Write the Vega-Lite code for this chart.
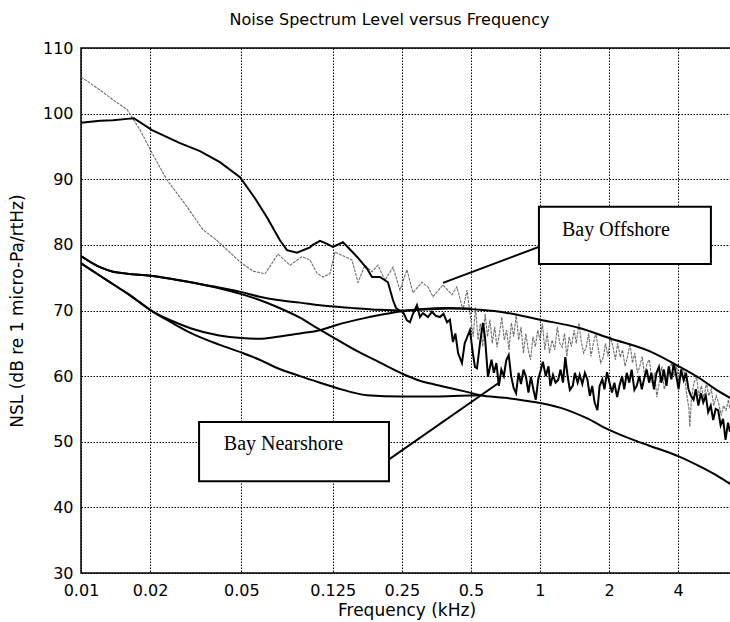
{
  "$schema": "https://vega.github.io/schema/vega-lite/v6.json",
  "width": 651,
  "height": 525,
  "autosize": {"type": "none"},
  "padding": {"left": 81, "top": 48, "right": 0, "bottom": 49},
  "background": "white",
  "title": {"text": "Noise Spectrum Level versus Frequency", "font": "DejaVu Sans", "fontSize": 16, "fontWeight": "normal", "color": "black", "offset": 12, "dx": -17},
  "config": {
    "view": {"stroke": "black", "strokeWidth": 1.5},
    "axis": {"labelFont": "DejaVu Sans", "labelFontSize": 16, "labelColor": "black", "titleFont": "DejaVu Sans", "titleFontSize": 17, "titleFontWeight": "normal", "titleColor": "black", "grid": true, "gridColor": "black", "gridDash": [1.5, 1.5], "gridOpacity": 1, "gridWidth": 1, "domain": false, "ticks": false}
  },
  "datasets": {
    "smooth": [
      {"s": "C1", "f": 0.01, "v": 78.3}, {"s": "C1", "f": 0.0121, "v": 76.6}, {"s": "C1", "f": 0.0138, "v": 75.9}, {"s": "C1", "f": 0.0159, "v": 75.6}, {"s": "C1", "f": 0.02, "v": 75.3}, {"s": "C1", "f": 0.025, "v": 74.8}, {"s": "C1", "f": 0.03, "v": 74.3}, {"s": "C1", "f": 0.04, "v": 73.5}, {"s": "C1", "f": 0.05, "v": 72.8}, {"s": "C1", "f": 0.06, "v": 72.1}, {"s": "C1", "f": 0.072, "v": 71.6}, {"s": "C1", "f": 0.09, "v": 71.2}, {"s": "C1", "f": 0.11, "v": 70.8}, {"s": "C1", "f": 0.15, "v": 70.4}, {"s": "C1", "f": 0.2, "v": 70.1}, {"s": "C1", "f": 0.25, "v": 70.0}, {"s": "C1", "f": 0.3, "v": 70.1}, {"s": "C1", "f": 0.4, "v": 70.3}, {"s": "C1", "f": 0.5, "v": 70.3},
      {"s": "C2", "f": 0.01, "v": 78.3}, {"s": "C2", "f": 0.0121, "v": 76.6}, {"s": "C2", "f": 0.0138, "v": 75.9}, {"s": "C2", "f": 0.0159, "v": 75.6}, {"s": "C2", "f": 0.02, "v": 75.3}, {"s": "C2", "f": 0.025, "v": 74.8}, {"s": "C2", "f": 0.03, "v": 74.3}, {"s": "C2", "f": 0.04, "v": 73.4}, {"s": "C2", "f": 0.05, "v": 72.5}, {"s": "C2", "f": 0.06, "v": 71.6}, {"s": "C2", "f": 0.072, "v": 70.5}, {"s": "C2", "f": 0.09, "v": 68.9}, {"s": "C2", "f": 0.107, "v": 67.3}, {"s": "C2", "f": 0.13, "v": 65.6}, {"s": "C2", "f": 0.16, "v": 63.8}, {"s": "C2", "f": 0.2, "v": 62.1}, {"s": "C2", "f": 0.25, "v": 60.4}, {"s": "C2", "f": 0.3, "v": 59.3}, {"s": "C2", "f": 0.35, "v": 58.7}, {"s": "C2", "f": 0.405, "v": 58.2}, {"s": "C2", "f": 0.48, "v": 57.6}, {"s": "C2", "f": 0.55, "v": 57.1}, {"s": "C2", "f": 0.7, "v": 56.7}, {"s": "C2", "f": 0.85, "v": 56.3}, {"s": "C2", "f": 1.0, "v": 55.9}, {"s": "C2", "f": 1.3, "v": 54.9}, {"s": "C2", "f": 1.6, "v": 53.6}, {"s": "C2", "f": 2.0, "v": 51.8}, {"s": "C2", "f": 2.5, "v": 50.4}, {"s": "C2", "f": 3.0, "v": 49.4}, {"s": "C2", "f": 4.07, "v": 47.7}, {"s": "C2", "f": 5.0, "v": 46.2}, {"s": "C2", "f": 6.0, "v": 44.7}, {"s": "C2", "f": 6.87, "v": 43.4},
      {"s": "C3", "f": 0.01, "v": 77.2}, {"s": "C3", "f": 0.0121, "v": 75.3}, {"s": "C3", "f": 0.0138, "v": 74.0}, {"s": "C3", "f": 0.0159, "v": 72.6}, {"s": "C3", "f": 0.0181, "v": 71.2}, {"s": "C3", "f": 0.02, "v": 70.1}, {"s": "C3", "f": 0.025, "v": 68.4}, {"s": "C3", "f": 0.03, "v": 67.3}, {"s": "C3", "f": 0.04, "v": 66.2}, {"s": "C3", "f": 0.05, "v": 65.8}, {"s": "C3", "f": 0.06, "v": 65.7}, {"s": "C3", "f": 0.072, "v": 66.0}, {"s": "C3", "f": 0.09, "v": 66.5}, {"s": "C3", "f": 0.11, "v": 67.0}, {"s": "C3", "f": 0.13, "v": 67.8}, {"s": "C3", "f": 0.17, "v": 68.8}, {"s": "C3", "f": 0.2, "v": 69.3}, {"s": "C3", "f": 0.25, "v": 69.9}, {"s": "C3", "f": 0.3, "v": 70.2}, {"s": "C3", "f": 0.4, "v": 70.4}, {"s": "C3", "f": 0.55, "v": 70.1}, {"s": "C3", "f": 0.7, "v": 69.7}, {"s": "C3", "f": 1.0, "v": 68.6}, {"s": "C3", "f": 1.5, "v": 67.3}, {"s": "C3", "f": 2.0, "v": 65.8}, {"s": "C3", "f": 3.0, "v": 63.8}, {"s": "C3", "f": 4.07, "v": 61.4}, {"s": "C3", "f": 5.0, "v": 59.6}, {"s": "C3", "f": 6.0, "v": 57.7}, {"s": "C3", "f": 6.87, "v": 56.5},
      {"s": "C4", "f": 0.01, "v": 77.2}, {"s": "C4", "f": 0.0121, "v": 75.3}, {"s": "C4", "f": 0.0138, "v": 74.0}, {"s": "C4", "f": 0.0159, "v": 72.6}, {"s": "C4", "f": 0.0181, "v": 71.2}, {"s": "C4", "f": 0.02, "v": 70.1}, {"s": "C4", "f": 0.025, "v": 68.1}, {"s": "C4", "f": 0.03, "v": 66.6}, {"s": "C4", "f": 0.04, "v": 64.8}, {"s": "C4", "f": 0.05, "v": 63.6}, {"s": "C4", "f": 0.06, "v": 62.5}, {"s": "C4", "f": 0.072, "v": 61.2}, {"s": "C4", "f": 0.09, "v": 60.0}, {"s": "C4", "f": 0.11, "v": 59.0}, {"s": "C4", "f": 0.13, "v": 58.2}, {"s": "C4", "f": 0.176, "v": 57.1}, {"s": "C4", "f": 0.25, "v": 56.9}, {"s": "C4", "f": 0.35, "v": 56.9}, {"s": "C4", "f": 0.45, "v": 57.0}, {"s": "C4", "f": 0.55, "v": 57.1}
    ],
    "near": [
      {"f": 0.01, "v": 98.6}, {"f": 0.0121, "v": 98.9}, {"f": 0.0138, "v": 99.0}, {"f": 0.0159, "v": 99.2}, {"f": 0.017, "v": 99.3}, {"f": 0.0204, "v": 97.5}, {"f": 0.027, "v": 95.5}, {"f": 0.033, "v": 94.3}, {"f": 0.0403, "v": 92.6}, {"f": 0.0493, "v": 90.3}, {"f": 0.0573, "v": 87.1}, {"f": 0.0646, "v": 84.2}, {"f": 0.0736, "v": 80.7}, {"f": 0.079, "v": 79.2}, {"f": 0.0873, "v": 78.8}, {"f": 0.0995, "v": 79.6}, {"f": 0.1025, "v": 80.0}, {"f": 0.11, "v": 80.6}, {"f": 0.1175, "v": 80.2}, {"f": 0.1253, "v": 79.7}, {"f": 0.1386, "v": 80.4}, {"f": 0.1459, "v": 79.6}, {"f": 0.1594, "v": 78.2}, {"f": 0.1763, "v": 76.4}, {"f": 0.1854, "v": 75.1}, {"f": 0.2008, "v": 75.1}, {"f": 0.2176, "v": 74.3}, {"f": 0.2288, "v": 71.6}, {"f": 0.2358, "v": 70.4}, {"f": 0.2455, "v": 69.9}, {"f": 0.253, "v": 69.8}, {"f": 0.2633, "v": 68.5}, {"f": 0.2714, "v": 68.2}, {"f": 0.2797, "v": 69.5}, {"f": 0.2911, "v": 70.8}, {"f": 0.3, "v": 69.0}, {"f": 0.3091, "v": 69.6}, {"f": 0.3251, "v": 69.0}, {"f": 0.3384, "v": 69.8}, {"f": 0.3517, "v": 69.2}, {"f": 0.3667, "v": 69.0}, {"f": 0.38, "v": 69.5}, {"f": 0.3938, "v": 68.2}, {"f": 0.4052, "v": 68.6}, {"f": 0.4177, "v": 65.2}, {"f": 0.428, "v": 66.5}, {"f": 0.44, "v": 63.5}, {"f": 0.4572, "v": 62.0}, {"f": 0.47, "v": 65.0}, {"f": 0.4955, "v": 67.0}, {"f": 0.51, "v": 63.5}, {"f": 0.521, "v": 61.4}, {"f": 0.5316, "v": 61.2}, {"f": 0.548, "v": 65.0}, {"f": 0.5645, "v": 68.1}, {"f": 0.5759, "v": 66.0}, {"f": 0.5935, "v": 59.9},
      {"f": 0.615, "v": 62.5}, {"f": 0.63, "v": 60.5}, {"f": 0.646, "v": 62.0}, {"f": 0.662, "v": 58.5}, {"f": 0.679, "v": 61.0}, {"f": 0.696, "v": 60.0}, {"f": 0.713, "v": 62.4}, {"f": 0.731, "v": 63.2}, {"f": 0.749, "v": 60.0}, {"f": 0.768, "v": 58.2}, {"f": 0.787, "v": 57.4}, {"f": 0.807, "v": 60.5}, {"f": 0.827, "v": 58.8}, {"f": 0.848, "v": 61.0}, {"f": 0.869, "v": 59.9}, {"f": 0.891, "v": 57.5}, {"f": 0.913, "v": 59.9}, {"f": 0.936, "v": 58.0}, {"f": 0.959, "v": 56.4}, {"f": 0.983, "v": 59.5}, {"f": 1.01, "v": 61.0}, {"f": 1.03, "v": 62.2}, {"f": 1.06, "v": 60.0}, {"f": 1.09, "v": 61.5}, {"f": 1.11, "v": 58.5}, {"f": 1.14, "v": 60.2}, {"f": 1.17, "v": 59.0}, {"f": 1.2, "v": 59.4}, {"f": 1.23, "v": 61.0}, {"f": 1.26, "v": 59.0}, {"f": 1.29, "v": 62.9}, {"f": 1.32, "v": 60.0}, {"f": 1.35, "v": 57.9}, {"f": 1.39, "v": 58.5}, {"f": 1.42, "v": 60.5}, {"f": 1.46, "v": 59.0}, {"f": 1.49, "v": 60.2}, {"f": 1.53, "v": 58.8}, {"f": 1.57, "v": 60.5}, {"f": 1.61, "v": 59.5}, {"f": 1.65, "v": 57.0}, {"f": 1.69, "v": 58.5}, {"f": 1.73, "v": 56.0}, {"f": 1.78, "v": 54.8}, {"f": 1.82, "v": 58.5}, {"f": 1.87, "v": 59.5}, {"f": 1.91, "v": 58.0}, {"f": 1.96, "v": 60.6}, {"f": 2.01, "v": 59.0}, {"f": 2.06, "v": 57.5}, {"f": 2.11, "v": 59.0}, {"f": 2.17, "v": 56.8}, {"f": 2.22, "v": 58.5}, {"f": 2.28, "v": 60.0}, {"f": 2.33, "v": 58.0}, {"f": 2.39, "v": 60.5}, {"f": 2.45, "v": 59.0}, {"f": 2.51, "v": 61.0}, {"f": 2.58, "v": 57.9}, {"f": 2.64, "v": 58.5}, {"f": 2.71, "v": 60.0}, {"f": 2.78, "v": 58.0}, {"f": 2.84, "v": 59.5}, {"f": 2.92, "v": 61.0}, {"f": 2.99, "v": 59.0}, {"f": 3.06, "v": 60.5}, {"f": 3.14, "v": 58.0}, {"f": 3.22, "v": 60.5}, {"f": 3.3, "v": 61.4}, {"f": 3.38, "v": 59.0}, {"f": 3.47, "v": 61.0}, {"f": 3.56, "v": 58.5}, {"f": 3.64, "v": 61.5}, {"f": 3.74, "v": 59.5}, {"f": 3.83, "v": 62.0}, {"f": 3.93, "v": 60.0}, {"f": 4.02, "v": 58.0}, {"f": 4.12, "v": 61.0}, {"f": 4.23, "v": 59.4}, {"f": 4.33, "v": 60.5}, {"f": 4.44, "v": 58.0}, {"f": 4.55, "v": 57.0}, {"f": 4.67, "v": 56.4}, {"f": 4.78, "v": 58.0}, {"f": 4.9, "v": 55.5}, {"f": 5.03, "v": 57.4}, {"f": 5.15, "v": 56.0}, {"f": 5.28, "v": 57.0}, {"f": 5.41, "v": 54.5}, {"f": 5.55, "v": 55.5}, {"f": 5.69, "v": 53.3}, {"f": 5.83, "v": 55.0}, {"f": 5.98, "v": 54.8}, {"f": 6.13, "v": 52.5}, {"f": 6.28, "v": 53.5}, {"f": 6.44, "v": 50.3}, {"f": 6.6, "v": 52.9}, {"f": 6.73, "v": 51.5}
    ],
    "off": [
      {"f": 0.01, "v": 105.6}, {"f": 0.0121, "v": 103.6}, {"f": 0.0138, "v": 102.1}, {"f": 0.0159, "v": 100.6}, {"f": 0.0181, "v": 97.5}, {"f": 0.0204, "v": 94.0}, {"f": 0.0237, "v": 89.9}, {"f": 0.029, "v": 85.8}, {"f": 0.034, "v": 82.3}, {"f": 0.0391, "v": 80.7}, {"f": 0.0493, "v": 77.4}, {"f": 0.0562, "v": 76.0}, {"f": 0.0634, "v": 75.6}, {"f": 0.068, "v": 77.2}, {"f": 0.0722, "v": 78.6}, {"f": 0.0814, "v": 76.9}, {"f": 0.0918, "v": 78.2}, {"f": 0.0995, "v": 77.7}, {"f": 0.1067, "v": 75.7}, {"f": 0.1134, "v": 75.1}, {"f": 0.1216, "v": 75.6}, {"f": 0.1279, "v": 78.9}, {"f": 0.1413, "v": 78.2}, {"f": 0.1516, "v": 77.7}, {"f": 0.1611, "v": 74.3}, {"f": 0.1728, "v": 76.9}, {"f": 0.1854, "v": 75.9}, {"f": 0.1968, "v": 76.9}, {"f": 0.2111, "v": 74.6}, {"f": 0.2288, "v": 76.6}, {"f": 0.2455, "v": 73.1}, {"f": 0.2633, "v": 76.2}, {"f": 0.2797, "v": 72.7}, {"f": 0.306, "v": 74.3}, {"f": 0.3251, "v": 73.6}, {"f": 0.3418, "v": 72.1}, {"f": 0.3779, "v": 73.9}, {"f": 0.4135, "v": 72.4}, {"f": 0.4348, "v": 73.6}, {"f": 0.4618, "v": 70.1}, {"f": 0.4808, "v": 73.1}, {"f": 0.4955, "v": 69.6},
      {"f": 0.512, "v": 66.0}, {"f": 0.524, "v": 70.5}, {"f": 0.537, "v": 65.5}, {"f": 0.55, "v": 68.0}, {"f": 0.563, "v": 64.5}, {"f": 0.577, "v": 69.5}, {"f": 0.591, "v": 66.0}, {"f": 0.605, "v": 68.6}, {"f": 0.62, "v": 65.0}, {"f": 0.635, "v": 67.5}, {"f": 0.65, "v": 64.4}, {"f": 0.666, "v": 66.5}, {"f": 0.682, "v": 69.0}, {"f": 0.699, "v": 65.5}, {"f": 0.716, "v": 67.0}, {"f": 0.733, "v": 64.0}, {"f": 0.751, "v": 68.1}, {"f": 0.769, "v": 66.0}, {"f": 0.788, "v": 69.5}, {"f": 0.807, "v": 65.5}, {"f": 0.827, "v": 67.5}, {"f": 0.847, "v": 63.5}, {"f": 0.868, "v": 66.5}, {"f": 0.889, "v": 64.0}, {"f": 0.91, "v": 62.5}, {"f": 0.932, "v": 66.0}, {"f": 0.955, "v": 64.5}, {"f": 0.978, "v": 67.0}, {"f": 1.0, "v": 65.5}, {"f": 1.025, "v": 68.0}, {"f": 1.05, "v": 64.0}, {"f": 1.075, "v": 66.6}, {"f": 1.1, "v": 63.5}, {"f": 1.13, "v": 65.5}, {"f": 1.16, "v": 64.0}, {"f": 1.19, "v": 67.5}, {"f": 1.22, "v": 65.0}, {"f": 1.25, "v": 64.4}, {"f": 1.28, "v": 66.5}, {"f": 1.31, "v": 63.0}, {"f": 1.34, "v": 66.0}, {"f": 1.37, "v": 64.5}, {"f": 1.41, "v": 67.0}, {"f": 1.44, "v": 65.0}, {"f": 1.48, "v": 68.1}, {"f": 1.51, "v": 65.5}, {"f": 1.55, "v": 63.5}, {"f": 1.59, "v": 64.4}, {"f": 1.63, "v": 66.5}, {"f": 1.67, "v": 63.0}, {"f": 1.71, "v": 65.0}, {"f": 1.75, "v": 66.6}, {"f": 1.8, "v": 64.0}, {"f": 1.84, "v": 62.0}, {"f": 1.89, "v": 62.9}, {"f": 1.93, "v": 65.0}, {"f": 1.98, "v": 63.0}, {"f": 2.03, "v": 66.0}, {"f": 2.08, "v": 64.5}, {"f": 2.13, "v": 62.5}, {"f": 2.18, "v": 65.0}, {"f": 2.24, "v": 62.9}, {"f": 2.29, "v": 64.0}, {"f": 2.35, "v": 61.5}, {"f": 2.41, "v": 63.0}, {"f": 2.47, "v": 65.0}, {"f": 2.53, "v": 62.0}, {"f": 2.59, "v": 63.5}, {"f": 2.66, "v": 60.5}, {"f": 2.72, "v": 61.4}, {"f": 2.79, "v": 63.0}, {"f": 2.86, "v": 60.0}, {"f": 2.93, "v": 62.0}, {"f": 3.0, "v": 62.5}, {"f": 3.08, "v": 59.0}, {"f": 3.16, "v": 60.5}, {"f": 3.23, "v": 56.8}, {"f": 3.31, "v": 59.0}, {"f": 3.4, "v": 61.5}, {"f": 3.48, "v": 58.0}, {"f": 3.57, "v": 59.4}, {"f": 3.66, "v": 61.0}, {"f": 3.75, "v": 62.0}, {"f": 3.84, "v": 60.0}, {"f": 3.94, "v": 61.5}, {"f": 4.04, "v": 59.0}, {"f": 4.14, "v": 61.0}, {"f": 4.24, "v": 60.9}, {"f": 4.35, "v": 57.5}, {"f": 4.46, "v": 55.0}, {"f": 4.5, "v": 52.3}, {"f": 4.57, "v": 56.5}, {"f": 4.69, "v": 59.0}, {"f": 4.81, "v": 59.9}, {"f": 4.93, "v": 57.0}, {"f": 5.05, "v": 58.5}, {"f": 5.18, "v": 56.5}, {"f": 5.31, "v": 59.0}, {"f": 5.44, "v": 57.0}, {"f": 5.58, "v": 58.0}, {"f": 5.72, "v": 55.5}, {"f": 5.86, "v": 57.0}, {"f": 6.0, "v": 56.0}, {"f": 6.16, "v": 54.0}, {"f": 6.31, "v": 55.5}, {"f": 6.47, "v": 54.8}, {"f": 6.63, "v": 56.4}, {"f": 6.73, "v": 55.0}
    ],
    "callouts": [
      {"name": "Bay Offshore", "f": 0.378, "v": 74.2, "f2": 0.99, "v2": 79.7},
      {"name": "Bay Nearshore", "f": 0.2176, "v": 47.2, "f2": 0.67, "v2": 59.1}
    ],
    "boxes": [
      {"name": "Bay Offshore", "f": 0.99, "f2": 5.56, "v": 77.1, "v2": 85.8},
      {"name": "Bay Nearshore", "f": 0.0327, "f2": 0.2198, "v": 44.0, "v2": 53.0}
    ],
    "labels": [
      {"name": "Bay Offshore", "f": 2.143, "v": 82.3},
      {"name": "Bay Nearshore", "f": 0.0763, "v": 49.6}
    ]
  },
  "encoding": {
    "x": {"field": "f", "type": "quantitative", "scale": {"type": "log", "domain": [0.01, 6.87], "nice": false}, "axis": {"title": "Frequency (kHz)", "values": [0.01, 0.02, 0.05, 0.125, 0.25, 0.5, 1, 2, 4], "format": "~g", "labelPadding": 9, "titlePadding": 4, "labelFlush": false}},
    "y": {"field": "v", "type": "quantitative", "scale": {"domain": [30, 110], "nice": false, "zero": false}, "axis": {"title": "NSL (dB re 1 micro-Pa/rtHz)", "values": [30, 40, 50, 60, 70, 80, 90, 100, 110], "labelPadding": 8, "titlePadding": 16, "labelFlush": false}}
  },
  "layer": [
    {
      "data": {"name": "off"},
      "mark": {"type": "line", "color": "#6e6e6e", "strokeWidth": 1.1, "strokeDash": [3, 1], "clip": true}
    },
    {
      "data": {"name": "smooth"},
      "mark": {"type": "line", "color": "black", "strokeWidth": 2, "clip": true, "interpolate": "monotone"},
      "encoding": {"detail": {"field": "s"}}
    },
    {
      "data": {"name": "near"},
      "mark": {"type": "line", "color": "black", "strokeWidth": 2, "clip": true}
    },
    {
      "data": {"name": "callouts"},
      "mark": {"type": "rule", "color": "black", "strokeWidth": 2},
      "encoding": {"x2": {"field": "f2"}, "y2": {"field": "v2"}}
    },
    {
      "data": {"name": "boxes"},
      "mark": {"type": "rect", "fill": "white", "stroke": "black", "strokeWidth": 2},
      "encoding": {"x2": {"field": "f2"}, "y2": {"field": "v2"}}
    },
    {
      "data": {"name": "labels"},
      "mark": {"type": "text", "font": "Liberation Serif", "fontSize": 20, "color": "black", "align": "center", "baseline": "middle"},
      "encoding": {"text": {"field": "name"}}
    }
  ]
}
